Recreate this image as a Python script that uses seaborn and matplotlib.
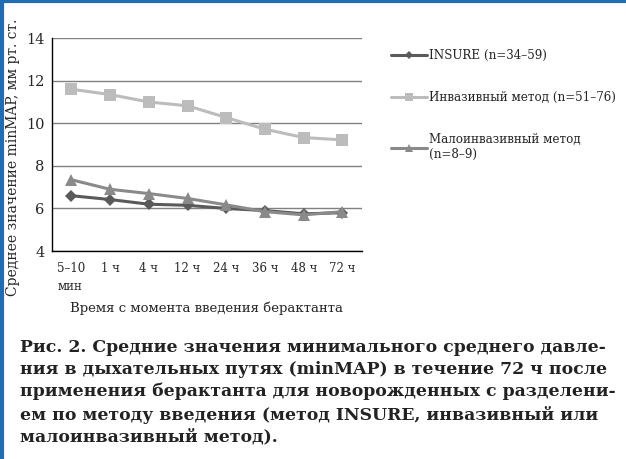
import numpy as np
import pandas as pd
import seaborn as sns
import matplotlib.pyplot as plt
from matplotlib.lines import Line2D

sns.set_theme(style='white')
plt.rcParams['font.family'] = ['DejaVu Serif']

times = ['5–10\nмин', '1 ч', '4 ч', '12 ч', '24 ч', '36 ч', '48 ч', '72 ч']
insure = [6.6, 6.42, 6.2, 6.15, 6.0, 5.9, 5.75, 5.8]
invasive = [11.6, 11.35, 11.0, 10.82, 10.27, 9.72, 9.33, 9.22]
minimal = [7.35, 6.9, 6.7, 6.47, 6.17, 5.85, 5.7, 5.85]

labels = ['INSURE (n=34–59)', 'Инвазивный метод (n=51–76)',
          'Малоинвазивный метод\n(n=8–9)']
colors = ['#5a5a5a', '#bcbcbc', '#8a8a8a']
markers = ['D', 's', '^']
sizes = [6, 8, 8]

caption = ['Рис. 2. Средние значения минимального среднего давле-',
           'ния в дыхательных путях (minMAP) в течение 72 ч после',
           'применения берактанта для новорожденных с разделени-',
           'ем по методу введения (метод INSURE, инвазивный или',
           'малоинвазивный метод).']

df = pd.DataFrame({'time': times * 3,
                   'value': insure + invasive + minimal,
                   'group': [labels[0]] * 8 + [labels[1]] * 8 + [labels[2]] * 8})
df['x'] = list(range(len(times))) * 3

fig = plt.figure(figsize=(6.26, 4.59), dpi=100)
ax = fig.add_axes([0.083, 0.453, 0.495, 0.464])

for lab, col, mk, ms in zip(labels, colors, markers, sizes):
    sub = df[df['group'] == lab]
    sns.lineplot(data=sub, x='x', y='value', color=col, marker=mk, markersize=ms,
                 markeredgewidth=0, linewidth=2.2, ax=ax, label=lab)

ax.set_xlim(-0.5, len(times) - 0.5)
ax.set_ylim(4, 14)
ax.set_yticks([4, 6, 8, 10, 12, 14])
ax.set_xticks(range(len(times)))
ax.set_xticklabels(times, fontsize=8.5, ha='center', va='top', linespacing=1.5,
                   multialignment='left')
ax.tick_params(axis='y', labelsize=10.5, length=5, color='#555555', pad=0.5)
ax.tick_params(axis='x', length=0, pad=8)
ax.grid(axis='y', color='#808080', linewidth=1)
for s in ['top', 'right']:
    ax.spines[s].set_visible(False)
for s in ['left', 'bottom']:
    ax.spines[s].set_color('black')
    ax.spines[s].set_linewidth(1)
ax.set_xlabel('Время с момента введения берактанта', fontsize=9.5, labelpad=6)
ax.set_ylabel('Среднее значение minMAP, мм рт. ст.', fontsize=10, va='center')
ax.yaxis.set_label_coords(-0.125, 0.44)

leg = ax.legend(loc='upper left', bbox_to_anchor=(1.06, 1.0), frameon=False,
                fontsize=8.6, handlelength=3.0, handletextpad=0.15, labelspacing=2.45,
                markerscale=0.75)

fig.text(0.032, 0.262, '\n'.join(caption), fontsize=12.4, fontweight='bold',
         va='top', ha='left', linespacing=1.38, color='#222222')

fig.add_artist(Line2D([0, 1], [0.997, 0.997], color='#1f6db5', linewidth=3,
                      transform=fig.transFigure))
fig.add_artist(Line2D([0.003, 0.003], [0, 1], color='#1f6db5', linewidth=3,
                      transform=fig.transFigure))

fig.savefig('out.png', dpi=100)
